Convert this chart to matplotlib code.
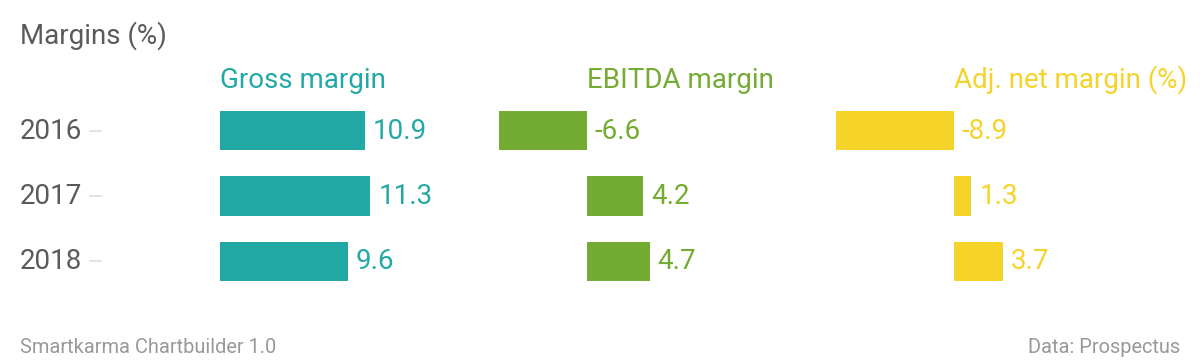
import matplotlib
matplotlib.use("Agg")
import matplotlib.pyplot as plt
import matplotlib.transforms as mtransforms

plt.rcParams['font.family'] = ['Roboto', 'DejaVu Sans']

years = ["2016", "2017", "2018"]
gross_margin = [10.9, 11.3, 9.6]
ebitda_margin = [-6.6, 4.2, 4.7]
adj_net_margin = [-8.9, 1.3, 3.7]

titles = ["Gross margin", "EBITDA margin", "Adj. net margin (%)"]
colors = ["#23a9a5", "#74ab32", "#f5d328"]

W, H = 1200, 362
fig = plt.figure(figsize=(W / 100, H / 100), dpi=100)

# pixel layout: zero line of each panel, common scale in px per unit
zeros_px = [220, 587, 954]
scale = 13.3
span = 20.0
xmins = [0.0, -8.0, -9.5]
top_px, bot_px = 98, 294
row_px = (bot_px - top_px) / 3.0

series = [gross_margin, ebitda_margin, adj_net_margin]
rows = list(range(len(years)))
base_off = 8 / row_px  # baseline offset below row centre

for i, vals in enumerate(series):
    left_px = zeros_px[i] + xmins[i] * scale
    ax = fig.add_axes([left_px / W, 1 - bot_px / H, span * scale / W, (bot_px - top_px) / H])
    ax.patch.set_alpha(0)
    ax.barh(rows, vals, height=0.6, color=colors[i])
    ax.set_xlim(xmins[i], xmins[i] + span)
    ax.set_ylim(2.5, -0.5)
    for r, v in zip(rows, vals):
        ax.text(max(v, 0) + 0.6, r + base_off, f"{v:.1f}", va="baseline", ha="left",
                fontsize=20, color=colors[i])
    ax.text(0, (88 - top_px) / row_px - 0.5, titles[i], ha="left", va="baseline",
            fontsize=20, color=colors[i])
    for s in ax.spines.values():
        s.set_visible(False)
    ax.set_xticks([])
    ax.set_yticks([])
    if i == 0:
        trans = mtransforms.blended_transform_factory(fig.transFigure, ax.transData)
        for r, yr in zip(rows, years):
            ax.text(20 / W, r + base_off, yr, transform=trans, ha="left", va="baseline",
                    fontsize=20, color="#5a5a5a")
            ax.plot([90 / W, 101 / W], [r, r], transform=trans, color="#dddddd",
                    lw=1.2, clip_on=False)

fig.text(20 / W, 1 - 44 / H, "Margins (%)", fontsize=20, color="#5a5a5a", va="baseline", ha="left")
fig.text(20 / W, 1 - 353 / H, "Smartkarma Chartbuilder 1.0", fontsize=14.4, color="#999999",
         va="baseline", ha="left")
fig.text(1180 / W, 1 - 353 / H, "Data: Prospectus", fontsize=14.4, color="#999999",
         va="baseline", ha="right")

fig.savefig("out.png", dpi=100)
